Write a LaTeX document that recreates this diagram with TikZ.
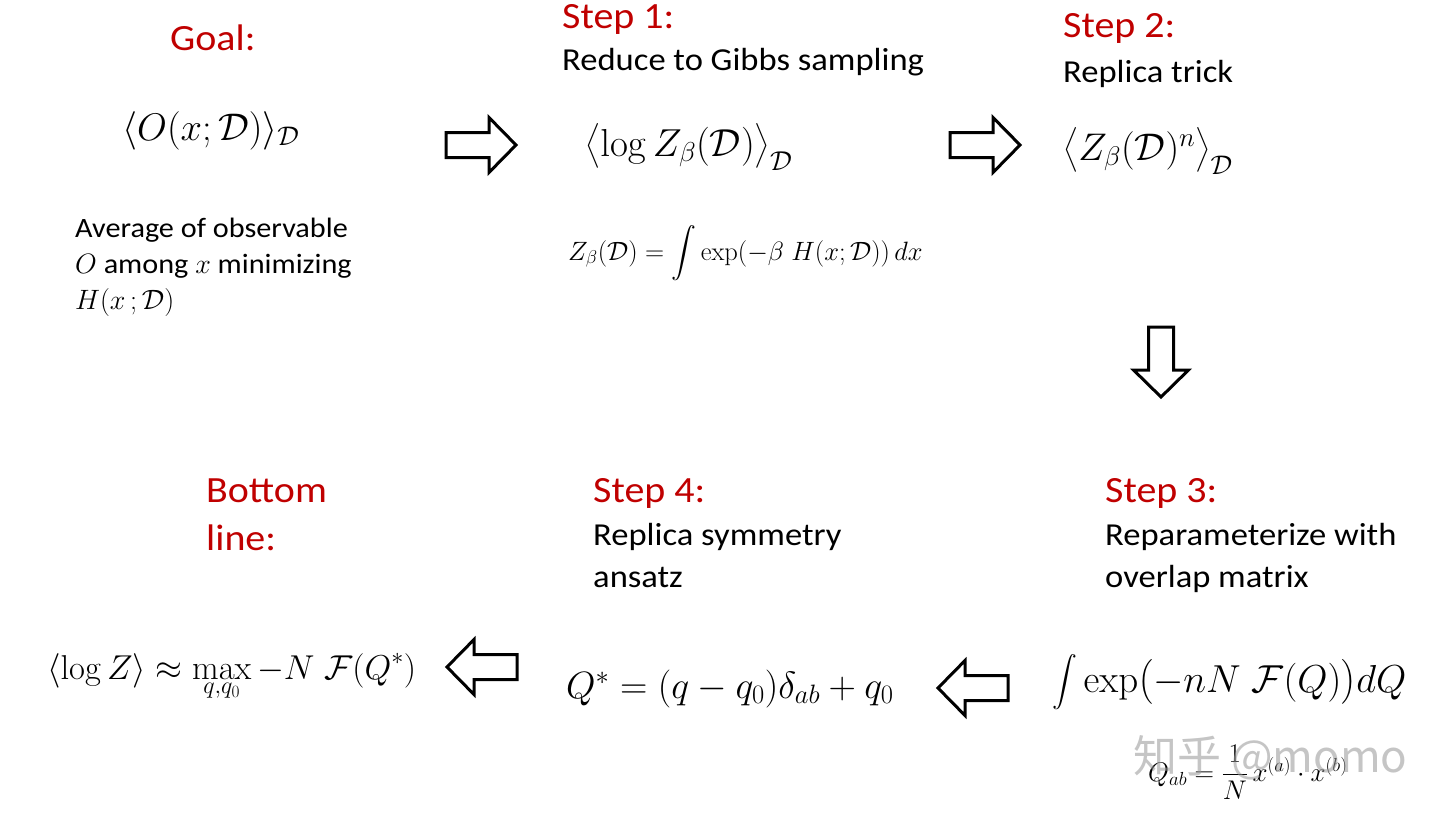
\RequirePackage{fix-cm}
\documentclass[tikz,border=0pt]{standalone}
\usepackage{amsmath}
\usepackage[no-math]{fontspec}
\setmainfont{Carlito}[FakeStretch=1.08]
\newfontfamily\cjkfont{Noto Sans CJK SC}
\definecolor{stepred}{RGB}{192,0,0}
\definecolor{wmgray}{RGB}{150,150,150}
\tikzset{
  title/.style={text=stepred, font=\fontsize{37}{44}\selectfont, anchor=base west, inner sep=0pt},
  desc/.style={font=\fontsize{32}{40}\selectfont, anchor=base west, inner sep=0pt},
  small/.style={font=\fontsize{28}{34}\selectfont, anchor=base west, inner sep=0pt},
  eq/.style={anchor=base west, inner sep=0pt},
  blockarrow/.style={draw=black, line width=3pt, fill=white, line join=miter},
  barrow/.pic={\draw[blockarrow] (-35,-12.5) -- (8,-12.5) -- (8,-27.5) -- (35,0) -- (8,27.5) -- (8,12.5) -- (-35,12.5) -- cycle;}
}
\begin{document}
\begin{tikzpicture}[x=1pt,y=-1pt]
\useasboundingbox (0,0) rectangle (1440,815);
\fill[white] (0,0) rectangle (1440,815);

% Goal
\node[title] (goal) at (170,50) {Goal:};
\node[eq, font=\fontsize{38.5}{42}\selectfont] (goalEq) at (122,140) {$\langle O(x;\mathcal{D})\rangle_{\mathcal{D}}$};
\node[small] (avg1) at (75,237) {Average of observable};
\node[small] (avg2) at (75,273) {$O$ among $x$ minimizing};
\node[small] (avg3) at (75,309) {$H(x\,;\mathcal{D})$};

% Step 1
\node[title] (s1) at (562,28) {Step 1:};
\node[desc] (s1d) at (562,70) {Reduce to Gibbs sampling};
\node[eq, font=\fontsize{39}{42}\selectfont] (s1Eq) at (585,156) {$\bigl\langle \log Z_\beta(\mathcal{D})\bigr\rangle_{\mathcal{D}}$};
\node[eq, font=\fontsize{26.5}{30}\selectfont] (s1Z) at (568,260) {$Z_\beta(\mathcal{D}) = \displaystyle\int \exp(-\beta\; H(x;\mathcal{D}))\,dx$};

% Step 2
\node[title] (s2) at (1063,37) {Step 2:};
\node[desc] (s2d) at (1063,82) {Replica trick};
\node[eq, font=\fontsize{38.5}{42}\selectfont] (s2Eq) at (1063,160) {$\bigl\langle Z_\beta(\mathcal{D})^n\bigr\rangle_{\mathcal{D}}$};

% Step 3
\node[title] (s3) at (1105,502) {Step 3:};
\node[desc] (s3d1) at (1105,545) {Reparameterize with};
\node[desc] (s3d2) at (1105,587) {overlap matrix};
\node[eq, font=\fontsize{39}{44}\selectfont] (s3Eq) at (1052,692) {$\displaystyle\int \exp\bigl(-nN\; \mathcal{F}(Q)\bigr)dQ$};
\node[eq, font=\fontsize{27}{30}\selectfont] (s3Q) at (1148,781) {$Q_{ab} = \dfrac{1}{N}\, x^{(a)}\cdot x^{(b)}$};

% Step 4
\node[title] (s4) at (593,502) {Step 4:};
\node[desc] (s4d1) at (593,545) {Replica symmetry};
\node[desc] (s4d2) at (593,587) {ansatz};
\node[eq, font=\fontsize{38}{42}\selectfont] (s4Eq) at (566,698) {$Q^* = (q-q_0)\delta_{ab} + q_0$};

% Bottom line
\node[title] (bl1) at (206,502) {Bottom};
\node[title] (bl2) at (206,550) {line:};
\node[eq, font=\fontsize{34.5}{40}\selectfont] (blEq) at (47,679) {$\displaystyle\langle \log Z\rangle \approx \max_{q,q_0} -N\; \mathcal{F}(Q^*)$};

% Block arrows
\coordinate (a1) at (481,145);
\coordinate (a2) at (985,145);
\coordinate (a3) at (1161,362);
\coordinate (a4) at (482,667);
\coordinate (a5) at (973,688);
\pic at (a1) {barrow};
\pic at (a2) {barrow};
\pic[rotate=-90] at (a3) {barrow};
\pic[rotate=180] at (a4) {barrow};
\pic[rotate=180] at (a5) {barrow};

% watermark
\node[anchor=base west, inner sep=0pt, text=wmgray, opacity=0.55, font=\cjkfont\fontsize{44}{48}\selectfont] (wm) at (1133,772) {知乎 @momo};
\end{tikzpicture}
\end{document}
